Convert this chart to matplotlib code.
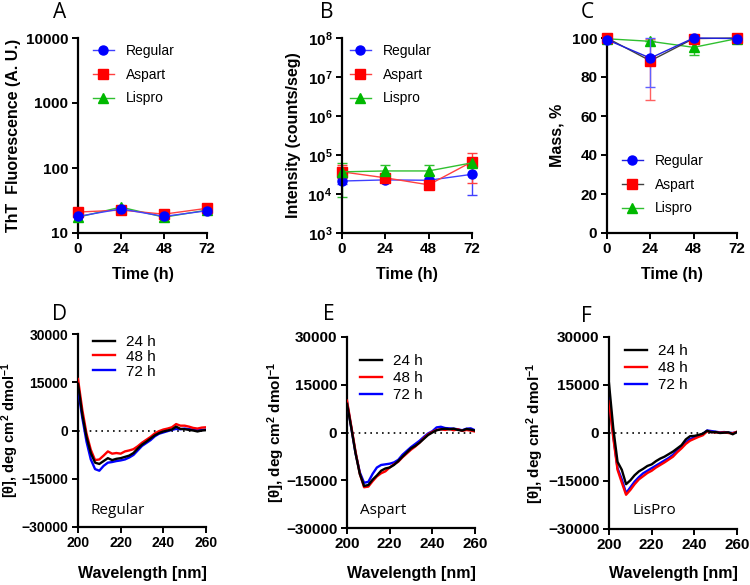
import numpy as np
import matplotlib
matplotlib.use("Agg")
import matplotlib.pyplot as plt
from matplotlib.lines import Line2D
from matplotlib.ticker import FixedLocator, FuncFormatter, NullLocator

plt.rcParams['font.family'] = ['Liberation Sans', 'DejaVu Sans']
plt.rcParams['font.weight'] = 'bold'
plt.rcParams['axes.labelweight'] = 'bold'
plt.rcParams['mathtext.fontset'] = 'custom'
plt.rcParams['mathtext.rm'] = 'Liberation Sans:bold'
plt.rcParams['mathtext.bf'] = 'Liberation Sans:bold'
plt.rcParams['mathtext.it'] = 'Liberation Sans:bold'

# ---- data: top row (time courses) ----
time_h = [0, 24, 48, 72]
names = ["Regular", "Aspart", "Lispro"]

tht_regular = [18, 23.5, 18, 22]
tht_aspart = [21, 22.5, 19.5, 24]
tht_lispro = [17.5, 25, 17.5, 22.5]

int_regular = [2.15e4, 2.3e4, 2.25e4, 3.2e4]
int_regular_lo = [1.8e4, 2.0e4, 2.0e4, 0.96e4]
int_regular_hi = [2.6e4, 2.7e4, 2.6e4, 5.5e4]
int_aspart = [3.7e4, 2.6e4, 1.72e4, 6.7e4]
int_aspart_lo = [2.6e4, 2.2e4, 1.5e4, 1.9e4]
int_aspart_hi = [5.5e4, 3.0e4, 2.0e4, 1.1e5]
int_lispro = [3.7e4, 3.9e4, 3.9e4, 6.3e4]
int_lispro_lo = [0.82e4, 3.0e4, 3.0e4, 5.5e4]
int_lispro_hi = [6.3e4, 5.7e4, 5.7e4, 7.2e4]

mass_regular = [99.1, 89.7, 100, 99.7]
mass_regular_lo = [99.1, 74.7, 100, 99.7]
mass_regular_hi = [99.1, 100, 100, 99.7]
mass_aspart = [100, 88.3, 99.7, 100]
mass_aspart_lo = [100, 68.2, 99.7, 100]
mass_aspart_hi = [100, 99.5, 99.7, 100]
mass_lispro = [99.6, 98.3, 95.2, 99.7]
mass_lispro_lo = [99.6, 98.3, 91.5, 99.7]
mass_lispro_hi = [99.6, 98.3, 98.3, 99.7]

# ---- data: bottom row (CD spectra) ----
wl = [200, 202, 204, 206, 208, 210, 212, 214, 216, 218, 220, 222, 224, 226, 228,
      230, 232, 234, 236, 238, 240, 242, 244, 246, 248, 250, 252, 254, 256, 258, 260]
times = ["24 h", "48 h", "72 h"]

reg_24 = [14500, 5000, -2000, -7000, -10000, -10400, -9500, -8600, -9200, -8800, -8600, -8200, -7800, -7000, -5600,
          -4400, -3500, -2500, -1500, -800, -300, 0, 300, 1200, 500, 400, 200, 0, -300, 0, 100]
reg_48 = [16000, 6500, -1000, -6000, -9200, -9000, -7800, -6500, -7200, -7000, -7200, -6500, -6200, -5800, -4900,
          -3800, -2900, -2000, -900, -200, 300, 600, 1000, 2000, 1500, 1500, 1200, 800, 600, 900, 1000]
reg_72 = [13000, 4000, -3500, -9000, -12000, -12500, -11000, -10000, -9800, -9500, -9300, -9000, -8400, -7600, -6200,
          -4800, -3900, -3000, -1800, -1000, -600, -200, 200, 500, 400, 600, 400, 300, 100, 200, 300]

asp_24 = [9000, 1500, -6500, -13000, -16800, -16500, -14800, -13500, -12000, -11300, -11000, -10200, -9000, -7600, -6300,
          -5000, -4200, -3200, -2000, -800, 0, 700, 1000, 1200, 1000, 1200, 800, 600, 1100, 900, 600]
asp_48 = [10000, 2000, -6000, -13000, -17200, -17000, -15300, -13800, -12800, -12200, -11000, -10000, -9200, -7800, -6600,
          -5400, -4400, -3200, -1800, -600, 200, 800, 1000, 800, 1100, 700, 1000, 500, 800, 600, 300]
asp_72 = [9500, 1500, -6500, -12500, -15800, -15500, -13000, -11000, -10200, -10000, -9800, -9400, -8600, -7000, -5800,
          -4600, -3600, -2600, -1400, -300, 400, 1600, 1800, 1400, 1300, 1200, 1000, 700, 1200, 1300, 700]

lis_24 = [15500, 1500, -9000, -11500, -16000, -14800, -13200, -12000, -11200, -10300, -9800, -8800, -8000, -7400, -6600,
          -5800, -4800, -3800, -2000, -1000, -900, -600, -200, 700, 200, 300, 0, 100, 200, -400, 300]
lis_48 = [10000, -1500, -11500, -15500, -19300, -17800, -16000, -14500, -13500, -12500, -11800, -10800, -10000, -9200, -8300,
          -7400, -6000, -4800, -3400, -2400, -1800, -1200, -700, 500, 300, 200, 100, 200, 0, -100, 400]
lis_72 = [11000, -800, -11000, -14500, -18800, -17000, -15200, -13800, -12600, -11800, -11000, -10200, -9400, -8600, -7800,
          -6800, -5400, -4300, -2900, -1900, -1400, -900, -300, 800, 600, 400, 200, 300, 100, 0, 300]

# ---- styles ----
mk_col = ['#0000ff', '#ff0000', '#00b800']
ln_col = ['#4040ff', '#ff4040', '#30c030']
markers = ['o', 's', '^']
cd_col = ['black', '#ff0000', '#0000ff']

W, H = 750, 585
fig = plt.figure(figsize=(7.5, 5.85), dpi=100)


def box(l, r, t, b):
    return [l / W, (H - b) / H, (r - l) / W, (b - t) / H]


def style(ax, size=11):
    for s in ['top', 'right']:
        ax.spines[s].set_visible(False)
    for s in ['left', 'bottom']:
        ax.spines[s].set_linewidth(1.6)
    ax.tick_params(direction='out', length=4, width=1.4, labelsize=size)
    ax.tick_params(axis='x', pad=2.5)
    ax.tick_params(axis='y', pad=3)
    ax.yaxis.set_minor_locator(NullLocator())


def panel(letter, x, y):
    fig.text(x / W, 1 - y / H, letter, family='Open Sans', weight='normal', fontsize=15,
             ha='center', va='center')


def time_axes(ax):
    ax.set_xlim(0, 72)
    ax.set_xticks(time_h)
    ax.set_xlabel('Time (h)', fontsize=11.5)
    ax.xaxis.set_label_coords(0.5, -0.175)


def handles(line_cols):
    return [Line2D([], [], color=line_cols[i], lw=1, marker=markers[i], ms=6.5,
                   mfc=mk_col[i], mec=mk_col[i]) for i in range(3)]


leg_kw = dict(frameon=False, prop={'weight': 'normal', 'size': 10}, handlelength=1.5,
              handletextpad=0.9, labelspacing=0.7, borderaxespad=0, borderpad=0)

# A
axA = fig.add_axes(box(78, 207, 38, 233))
for i, ys in enumerate([tht_regular, tht_aspart, tht_lispro]):
    axA.plot(time_h, ys, color=ln_col[i], lw=1, marker=markers[i], ms=6.5,
             mfc=mk_col[i], mec=mk_col[i], clip_on=False, zorder=3 - i * 0.1)
axA.set_yscale('log')
axA.set_ylim(10, 10000)
axA.yaxis.set_major_locator(FixedLocator([10, 100, 1000, 10000]))
axA.yaxis.set_major_formatter(FuncFormatter(lambda v, p: '%d' % v))
axA.yaxis.set_minor_locator(NullLocator())
time_axes(axA)
style(axA)
axA.set_ylabel('ThT  Fluorescence (A. U.)', fontsize=11.5)
axA.yaxis.set_label_coords((21 - 78) / 129, 0.5)
axA.legend(handles(ln_col), names, loc='upper left', bbox_to_anchor=((93 - 78) / 129, (233 - 44) / 195), **leg_kw)
panel('A', 60, 13)

# B
axB = fig.add_axes(box(342, 472, 38, 233))
b_data = [(int_regular, int_regular_lo, int_regular_hi),
          (int_aspart, int_aspart_lo, int_aspart_hi),
          (int_lispro, int_lispro_lo, int_lispro_hi)]
for i, (ys, lo, hi) in enumerate(b_data):
    ys = np.array(ys)
    yerr = [ys - np.array(lo), np.array(hi) - ys]
    axB.errorbar(time_h, ys, yerr=yerr, color=ln_col[i], lw=1, elinewidth=1, capsize=3.5, capthick=1,
                 marker=markers[i], ms=6.5, mfc=mk_col[i], mec=mk_col[i], clip_on=False)
axB.set_yscale('log')
axB.set_ylim(1e3, 1e8)
axB.yaxis.set_major_locator(FixedLocator([1e3, 1e4, 1e5, 1e6, 1e7, 1e8]))
axB.yaxis.set_major_formatter(FuncFormatter(lambda v, p: r'$\mathbf{10^{%d}}$' % round(np.log10(v))))
axB.yaxis.set_minor_locator(NullLocator())
time_axes(axB)
style(axB)
axB.set_ylabel('Intensity (counts/seg)', fontsize=11.5)
axB.yaxis.set_label_coords((301 - 342) / 130, 0.5)
axB.legend(handles(ln_col), names, loc='upper left', bbox_to_anchor=((350 - 342) / 130, (233 - 44) / 195), **leg_kw)
panel('B', 327, 13)

# C
axC = fig.add_axes(box(607, 737, 38, 233))
c_data = [(mass_regular, mass_regular_lo, mass_regular_hi),
          (mass_aspart, mass_aspart_lo, mass_aspart_hi),
          (mass_lispro, mass_lispro_lo, mass_lispro_hi)]
c_line = ['#2020e0', '#404040', '#30c030']
c_err = ['#6060ff', '#ff6060', '#30c030']
for i, (ys, lo, hi) in enumerate(c_data):
    ys = np.array(ys)
    yerr = [ys - np.array(lo), np.array(hi) - ys]
    axC.errorbar(time_h, ys, yerr=yerr, color=c_line[i], ecolor=c_err[i], lw=1, elinewidth=1,
                 capsize=3.5, capthick=1, marker=markers[i], ms=6.5, mfc=mk_col[i], mec=mk_col[i],
                 clip_on=False, zorder=3 - i * 0.1)
axC.set_ylim(0, 100)
axC.set_yticks([0, 20, 40, 60, 80, 100])
time_axes(axC)
style(axC)
axC.set_ylabel('Mass, %', fontsize=11.5)
axC.yaxis.set_label_coords((565 - 607) / 130, 0.5)
axC.legend(handles(c_line), names, loc='upper left', bbox_to_anchor=((622 - 607) / 130, (233 - 154) / 195), **leg_kw)
panel('C', 587, 13)

# D, E, F
cd_sets = [([reg_24, reg_48, reg_72], 'Regular', (78, 206, 334, 527), 'D', (60, 315), (90, 510), 21, (93, 335), 10, 10.5),
           ([asp_24, asp_48, asp_72], 'Aspart', (347, 475, 337, 528), 'E', (329, 315), (360, 510), 287, (360, 354), 11, 11),
           ([lis_24, lis_48, lis_72], 'LisPro', (609, 737, 337, 529), 'F', (586, 316), (633, 510), 546, (625, 344), 11, 11)]
for curves, name, (l, r, t, b), letter, lpos, npos, ylx, (lx, ly), tsz, lsz in cd_sets:
    ax = fig.add_axes(box(l, r, t, b))
    ax.axhline(0, color='black', lw=1.2, ls=(0, (1, 2.5)), zorder=1)
    for j, cv in enumerate(curves):
        ax.plot(wl, cv, color=cd_col[j], lw=1.7, zorder=3 - j * 0.1)
    ax.set_xlim(200, 260)
    ax.set_ylim(-30000, 30000)
    ax.set_xticks([200, 220, 240, 260])
    ax.set_yticks([-30000, -15000, 0, 15000, 30000])
    style(ax, tsz)
    ax.set_xlabel('Wavelength [nm]', fontsize=11.5)
    ax.xaxis.set_label_coords(0.5, (b - 566) / (b - t))
    ax.set_ylabel(r'[θ], deg cm$^{\mathbf{2}}$ dmol$^{\mathbf{-1}}$', fontsize=lsz)
    ax.yaxis.set_label_coords((ylx - l) / (r - l), 0.5)
    cd_h = [Line2D([], [], color=cd_col[j], lw=1.7) for j in range(3)]
    ax.legend(cd_h, times, loc='upper left', bbox_to_anchor=((lx - l) / (r - l), (b - ly) / (b - t)),
              frameon=False, prop={'weight': 'normal', 'size': 11}, handlelength=1.45,
              handletextpad=0.7, labelspacing=0.05 if letter == 'D' else 0.2, borderaxespad=0, borderpad=0)
    fig.text(npos[0] / W, 1 - npos[1] / H, name, family='Open Sans', weight='normal', fontsize=11,
             ha='left', va='center')
    panel(letter, *lpos)

fig.savefig('out.png', dpi=100)
